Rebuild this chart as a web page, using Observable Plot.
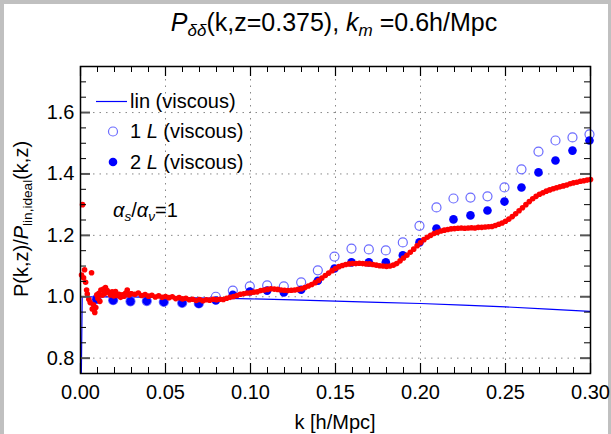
<!DOCTYPE html>
<html><head><meta charset="utf-8">
<script src="https://cdn.jsdelivr.net/npm/d3@7"></script>
<script src="https://cdn.jsdelivr.net/npm/@observablehq/plot@0.6"></script>
<style>
html,body{margin:0;padding:0;background:#c0c0c0;width:611px;height:434px;overflow:hidden;font-family:"Liberation Sans",Arial,Helvetica,sans-serif;}
#page{position:absolute;left:4px;top:4px;width:604px;height:430px;background:#fff;}
#chart{position:absolute;left:0;top:0;}
.t{position:absolute;white-space:nowrap;color:#000;}
.sub{font-size:0.68em;position:relative;top:0.3em;}
</style></head>
<body>
<div id="page"></div>
<div id="chart"></div>
<div class="t" id="title" style="left:334px;top:8px;font-size:25px;transform:translateX(-50%);"><i>P</i><span class="sub"><i>δδ</i></span>(k,z=0.375), <i>k</i><span class="sub"><i>m</i></span> =0.6h/Mpc</div>
<div class="t" id="ylab" style="left:21px;top:219px;font-size:20px;transform:translate(-50%,-50%) rotate(-90deg);">P(k,z)/<i>P</i><span class="sub">lin,ideal</span>(k,z)</div>
<div class="t" id="xlab" style="left:335px;top:411px;font-size:20px;transform:translateX(-50%);">k [h/Mpc]</div>
<div id="legend"></div>
<script>
// ---- data ----
const xMajor = [0, 0.05, 0.10, 0.15, 0.20, 0.25, 0.30];
const xMinor = [0.01,0.02,0.03,0.04,0.06,0.07,0.08,0.09,0.11,0.12,0.13,0.14,0.16,0.17,0.18,0.19,0.21,0.22,0.23,0.24,0.26,0.27,0.28,0.29];
const yMajor = [0.8, 1.0, 1.2, 1.4, 1.6];
const yMinor = [0.75,0.85,0.9,0.95,1.05,1.1,1.15,1.25,1.3,1.35,1.45,1.5,1.55,1.65,1.7,1.75];

const linK = [0.0002, 0.001, 0.025, 0.05, 0.075, 0.10, 0.125, 0.15, 0.175, 0.20, 0.225, 0.25, 0.275, 0.30];
const linV = [0.60, 1.000, 0.9995, 0.998, 0.996, 0.993, 0.990, 0.986, 0.982, 0.978, 0.973, 0.967, 0.960, 0.952];

const ptK = [0.0094,0.0192,0.0294,0.0390,0.0490,0.0598,0.0696,0.0796,0.0896,0.0996,0.1098,0.1196,0.1298,0.1396,0.1494,0.1594,0.1696,0.1796,0.1896,0.1994,0.2094,0.2194,0.2294,0.2394,0.2494,0.2594,0.2694,0.2794,0.2894,0.2994];
const twoL = [0.992,0.989,0.985,0.986,0.983,0.980,0.977,0.988,1.006,1.017,1.020,1.014,1.023,1.052,1.092,1.112,1.112,1.112,1.135,1.177,1.222,1.252,1.265,1.281,1.310,1.356,1.405,1.444,1.476,1.509];
const oneL = [0.992,0.989,0.985,0.986,0.983,0.980,0.978,1.000,1.020,1.034,1.037,1.034,1.047,1.086,1.131,1.157,1.154,1.151,1.177,1.231,1.291,1.320,1.323,1.327,1.356,1.415,1.473,1.509,1.519,1.529];

const redK = [0.0006,0.0012,0.0018,0.0024,0.0030,0.0036,0.0040,0.0049,0.0057,0.0065,0.0069,0.0076,0.0084,0.0090,0.0096,0.0102,0.0108,0.0114,0.0120,0.0128,0.0135,0.0141,0.0147,0.0157,0.0167,0.0176,0.0186,0.0196,0.0206,0.0216,0.0226,0.0236,0.0246,0.0256,0.0266,0.0275,0.0285,0.0295,
0.030,0.032,0.034,0.036,0.038,0.040,0.042,0.044,0.046,0.048,0.050,0.052,0.054,0.056,0.058,0.060,0.062,0.064,0.066,0.068,0.070,0.072,0.074,0.076,0.078,0.080,0.082,0.084,0.086,0.088,0.090,0.092,0.094,0.096,0.098,0.100,0.102,0.104,0.106,0.108,0.110,0.112,0.114,0.116,0.118,0.120,0.122,0.124,0.126,0.128,0.130,0.132,0.134,0.136,0.138,0.140,0.142,0.144,0.146,0.148,0.150,0.152,0.154,0.156,0.158,0.160,0.162,0.164,0.166,0.168,0.170,0.172,0.174,0.176,0.178,0.180,0.182,0.184,0.186,0.188,0.190,0.192,0.194,0.196,0.198,0.200,0.202,0.204,0.206,0.208,0.210,0.212,0.214,0.216,0.218,0.220,0.222,0.224,0.226,0.228,0.230,0.232,0.234,0.236,0.238,0.240,0.242,0.244,0.246,0.248,0.250,0.252,0.254,0.256,0.258,0.260,0.262,0.264,0.266,0.268,0.270,0.272,0.274,0.276,0.278,0.280,0.282,0.284,0.286,0.288,0.290,0.292,0.294,0.296,0.298,0.300];
const redV = [1.071,1.300,1.062,1.088,1.047,1.022,1.009,0.992,0.981,1.078,0.960,0.974,0.949,0.965,1.006,0.995,1.011,0.985,1.022,1.005,1.025,1.010,1.030,1.020,1.014,1.006,1.016,1.003,1.017,1.004,1.008,0.998,1.006,1.002,1.012,1.022,1.006,1.010,
1.010,1.008,1.012,1.004,1.007,1.002,1.005,0.999,1.003,0.998,1.001,0.997,1.000,0.994,0.997,0.993,0.995,0.990,0.992,0.988,0.991,0.987,0.990,0.989,0.992,0.990,0.992,0.991,0.995,0.998,1.001,1.004,1.008,1.010,1.012,1.013,1.015,1.016,1.020,1.022,1.024,1.026,1.025,1.024,1.022,1.021,1.020,1.021,1.022,1.024,1.026,1.030,1.035,1.040,1.046,1.053,1.061,1.069,1.077,1.085,1.092,1.098,1.102,1.105,1.107,1.108,1.108,1.109,1.108,1.107,1.107,1.105,1.103,1.101,1.100,1.099,1.100,1.103,1.108,1.117,1.126,1.135,1.145,1.155,1.166,1.176,1.186,1.194,1.200,1.206,1.210,1.214,1.217,1.219,1.221,1.222,1.223,1.224,1.223,1.224,1.225,1.224,1.226,1.226,1.227,1.228,1.229,1.232,1.236,1.240,1.246,1.253,1.261,1.270,1.280,1.290,1.300,1.310,1.319,1.327,1.334,1.339,1.344,1.348,1.352,1.355,1.358,1.361,1.364,1.368,1.371,1.373,1.376,1.378,1.380,1.382];

// ---- tables ----
const lin = linK.map((k,i)=>({k, v: linV[i]}));
const open = ptK.map((k,i)=>({k, v: oneL[i]}));
const filled = ptK.map((k,i)=>({k, v: twoL[i]}));
const red = redK.map((k,i)=>({k, v: redV[i]}));

const W = 611, H = 434, mL = 80, mR = 21, mT = 66, mB = 61;
const pw = W - mL - mR, ph = H - mT - mB;
const majLen = 10, minLen = 6;

const chart = Plot.plot({
  width: W, height: H,
  marginLeft: mL, marginRight: mR, marginTop: mT, marginBottom: mB,
  x: {domain: [0, 0.3]},
  y: {domain: [0.75, 1.75]},
  style: {background: "transparent", fontFamily: "Liberation Sans, Arial, Helvetica, sans-serif", fontSize: "20px", color: "#000"},
  marks: [
    Plot.gridX(xMajor.slice(1, -1), {stroke: "#888", strokeOpacity: 1, strokeDasharray: "1.5,5"}),
    Plot.gridY(yMajor, {stroke: "#888", strokeOpacity: 1, strokeDasharray: "1.5,5"}),
    Plot.line(lin, {x: "k", y: "v", stroke: "#0000ff", strokeWidth: 1.2, clip: true}),
    Plot.dot(open, {x: "k", y: "v", r: 4.5, stroke: "#6b6bff", strokeWidth: 1.2, fill: "none"}),
    Plot.dot(filled, {x: "k", y: "v", r: 4.3, fill: "#0000ff", stroke: "none"}),
    Plot.dot(red, {x: "k", y: "v", r: 2.8, fill: "#ff0000", stroke: "none"}),
    // ticks (inward, mirrored)
    Plot.tickX(xMajor, {x: d => d, insetTop: ph - majLen, stroke: "#000", strokeWidth: 1.2}),
    Plot.tickX(xMajor, {x: d => d, insetBottom: ph - majLen, stroke: "#000", strokeWidth: 1.2}),
    Plot.tickX(xMinor, {x: d => d, insetTop: ph - minLen, stroke: "#000", strokeWidth: 1}),
    Plot.tickX(xMinor, {x: d => d, insetBottom: ph - minLen, stroke: "#000", strokeWidth: 1}),
    Plot.tickY(yMajor, {y: d => d, insetRight: pw - majLen, stroke: "#555", strokeWidth: 2}),
    Plot.tickY(yMajor, {y: d => d, insetLeft: pw - majLen, stroke: "#555", strokeWidth: 2}),
    Plot.tickY(yMinor, {y: d => d, insetRight: pw - minLen, stroke: "#000", strokeWidth: 1}),
    Plot.tickY(yMinor, {y: d => d, insetLeft: pw - minLen, stroke: "#000", strokeWidth: 1}),
    Plot.frame({stroke: "#000", strokeWidth: 1.5}),
    Plot.axisX(xMajor, {tickSize: 0, tickPadding: 11, tickFormat: d => d.toFixed(2), label: null, fontSize: 20}),
    Plot.axisY(yMajor, {tickSize: 0, tickPadding: 6, tickFormat: d => d.toFixed(1), label: null, fontSize: 20})
  ]
});
document.getElementById("chart").appendChild(chart);

// ---- in-plot legend & annotation ----
const lg = document.getElementById("legend");
lg.innerHTML = `
<svg style="position:absolute;left:0;top:0" width="611" height="434">
  <line x1="96" x2="127" y1="101.5" y2="101.5" stroke="#0000ff" stroke-width="1.2"/>
  <circle cx="113" cy="131.5" r="4.5" fill="none" stroke="#6b6bff" stroke-width="1.2"/>
  <circle cx="113" cy="162" r="4.3" fill="#0000ff"/>
</svg>
<div class="t" style="left:130px;top:89px;font-size:20px;line-height:24px;">lin (viscous)</div>
<div class="t" style="left:130px;top:119px;font-size:20px;line-height:24px;">1 <i>L</i> (viscous)</div>
<div class="t" style="left:130px;top:150px;font-size:20px;line-height:24px;">2 <i>L</i> (viscous)</div>
<div class="t" style="left:113px;top:198px;font-size:20px;line-height:24px;"><i>α</i><span class="sub"><i>s</i></span>/<i>α</i><span class="sub"><i>ν</i></span>=1</div>
`;
</script>
</body></html>
